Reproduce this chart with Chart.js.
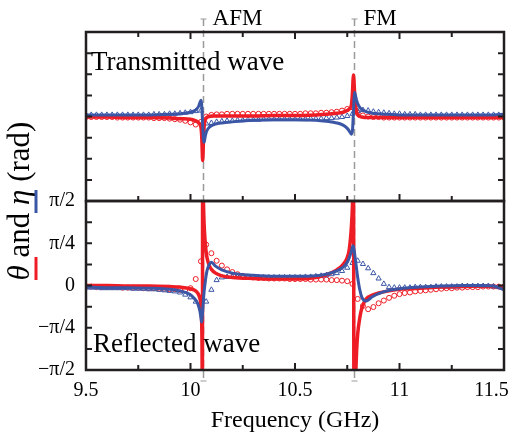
<!DOCTYPE html>
<html>
<head>
<meta charset="utf-8">
<script src="https://cdn.jsdelivr.net/npm/chart.js@4.4.1/dist/chart.umd.min.js"></script>
<style>
  html, body { margin: 0; padding: 0; background: #fff; }
</style>
</head>
<body>
<canvas id="chart" width="516" height="439"></canvas>
<script>
// frequency grid of the model curves (GHz)
var lineFreq = [9.5, 9.6, 9.7, 9.8, 9.9, 9.95, 10.0, 10.02, 10.03, 10.04,
  10.045, 10.05, 10.053, 10.055, 10.057, 10.058, 10.06, 10.062, 10.065, 10.07,
  10.075, 10.08, 10.09, 10.1, 10.12, 10.15, 10.2, 10.3, 10.4, 10.5,
  10.6, 10.65, 10.7, 10.73, 10.75, 10.76, 10.77, 10.775, 10.778, 10.78,
  10.782, 10.785, 10.79, 10.795, 10.8, 10.81, 10.82, 10.84, 10.87, 10.9,
  10.95, 11.0, 11.1, 11.2, 11.3, 11.4, 11.45, 11.5];

// transmitted wave, model (rad)
var thetaTrans = [-0.01, -0.01, -0.02, -0.02, -0.03, -0.04, -0.05, -0.07, -0.09, -0.12,
  -0.14, -0.2, -0.32, -0.5, -0.75, -0.82, -0.7, -0.45, -0.2, -0.07,
  -0.03, -0.01, 0.0, 0.01, 0.01, 0.01, 0.01, 0.01, 0.02, 0.02,
  0.03, 0.04, 0.06, 0.08, 0.11, 0.14, 0.22, 0.45, 0.7, 0.77,
  0.68, 0.45, 0.2, 0.08, 0.03, 0.0, -0.01, -0.02, -0.02, -0.02,
  -0.02, -0.02, -0.02, -0.02, -0.02, -0.02, -0.02, -0.02];
var etaTrans = [0.03, 0.03, 0.03, 0.03, 0.04, 0.05, 0.08, 0.11, 0.14, 0.2,
  0.26, 0.3, 0.24, 0.12, -0.05, -0.14, -0.3, -0.43, -0.48, -0.38,
  -0.3, -0.25, -0.2, -0.17, -0.14, -0.12, -0.1, -0.07, -0.06, -0.06,
  -0.07, -0.09, -0.12, -0.16, -0.22, -0.27, -0.33, -0.26, -0.05, 0.12,
  0.3, 0.45, 0.38, 0.3, 0.24, 0.17, 0.13, 0.09, 0.06, 0.05,
  0.04, 0.03, 0.03, 0.03, 0.03, 0.03, 0.03, 0.04];

// reflected wave, model (rad)
var thetaRefl = [0.0, 0.0, -0.01, -0.01, -0.02, -0.03, -0.06, -0.09, -0.12, -0.18,
  -0.24, -0.36, -0.6, -1.1, -2.5, 2.5, 2.0, 1.55, 1.15, 0.82,
  0.62, 0.5, 0.37, 0.3, 0.23, 0.18, 0.15, 0.13, 0.12, 0.12,
  0.15, 0.2, 0.29, 0.39, 0.52, 0.68, 1.1, 1.5, 2.0, 2.5,
  -2.5, -2.2, -1.7, -1.2, -0.9, -0.6, -0.42, -0.25, -0.18, -0.14,
  -0.1, -0.07, -0.05, -0.03, -0.02, -0.01, -0.02, -0.05];
var etaRefl = [-0.03, -0.04, -0.04, -0.05, -0.07, -0.1, -0.17, -0.25, -0.3, -0.4,
  -0.48, -0.6, -0.68, -0.64, -0.55, -0.48, -0.37, -0.26, -0.12, 0.05,
  0.19, 0.29, 0.39, 0.43, 0.36, 0.29, 0.23, 0.19, 0.17, 0.17,
  0.18, 0.21, 0.27, 0.34, 0.43, 0.52, 0.64, 0.71, 0.74, 0.72,
  0.68, 0.6, 0.45, 0.3, 0.15, -0.08, -0.22, -0.29, -0.21, -0.15,
  -0.09, -0.06, -0.03, -0.01, 0.0, 0.0, -0.01, -0.08];

// measured points, 25 MHz steps (GHz)
var measFreq = [9.5, 9.525, 9.55, 9.575, 9.6, 9.625, 9.65, 9.675, 9.7, 9.725,
  9.75, 9.775, 9.8, 9.825, 9.85, 9.875, 9.9, 9.925, 9.95, 9.975,
  10.0, 10.025, 10.05, 10.075, 10.1, 10.125, 10.15, 10.175, 10.2, 10.225,
  10.25, 10.275, 10.3, 10.325, 10.35, 10.375, 10.4, 10.425, 10.45, 10.475,
  10.5, 10.525, 10.55, 10.575, 10.6, 10.625, 10.65, 10.675, 10.7, 10.725,
  10.75, 10.775, 10.8, 10.825, 10.85, 10.875, 10.9, 10.925, 10.95, 10.975,
  11.0, 11.025, 11.05, 11.075, 11.1, 11.125, 11.15, 11.175, 11.2, 11.225,
  11.25, 11.275, 11.3, 11.325, 11.35, 11.375, 11.4, 11.425, 11.45, 11.475,
  11.5];

var thetaTransMeas = [-0.01, -0.01, -0.01, -0.01, -0.01, -0.01, -0.02, -0.02, -0.02, -0.02,
  -0.02, -0.02, -0.02, -0.03, -0.03, -0.03, -0.04, -0.05, -0.06, -0.08,
  -0.11, -0.15, -0.1, 0.0, 0.03, 0.04, 0.04, 0.05, 0.05, 0.05,
  0.05, 0.05, 0.05, 0.05, 0.05, 0.05, 0.05, 0.05, 0.05, 0.05,
  0.05, 0.05, 0.06, 0.06, 0.06, 0.07, 0.07, 0.08, 0.09, 0.11,
  0.14, 0.17, 0.07, 0.02, 0.0, -0.01, -0.01, -0.02, -0.02, -0.02,
  -0.02, -0.02, -0.02, -0.02, -0.02, -0.02, -0.02, -0.02, -0.02, -0.02,
  -0.02, -0.02, -0.02, -0.02, -0.02, -0.02, -0.02, -0.02, -0.02, -0.02,
  -0.02];
var etaTransMeas = [0.03, 0.03, 0.03, 0.03, 0.03, 0.03, 0.03, 0.03, 0.03, 0.03,
  0.03, 0.03, 0.03, 0.04, 0.04, 0.04, 0.05, 0.05, 0.06, 0.07,
  0.08, 0.1, 0.11, -0.13, -0.12, -0.1, -0.09, -0.08, -0.08, -0.07,
  -0.07, -0.06, -0.06, -0.06, -0.05, -0.05, -0.05, -0.05, -0.05, -0.05,
  -0.05, -0.05, -0.05, -0.04, -0.04, -0.04, -0.03, -0.03, -0.02, -0.01,
  0.01, 0.05, 0.1, 0.12, 0.11, 0.09, 0.08, 0.07, 0.06, 0.05,
  0.05, 0.04, 0.04, 0.04, 0.03, 0.03, 0.03, 0.03, 0.03, 0.03,
  0.03, 0.03, 0.03, 0.03, 0.03, 0.03, 0.03, 0.03, 0.03, 0.03,
  0.03];
var thetaReflMeas = [-0.02, -0.02, -0.03, -0.03, -0.03, -0.03, -0.03, -0.04, -0.04, -0.04,
  -0.04, -0.05, -0.05, -0.05, -0.06, -0.06, -0.07, -0.07, -0.08, -0.08,
  -0.05, 0.12, 0.45, 0.76, 0.6, 0.46, 0.37, 0.3, 0.25, 0.21,
  0.18, 0.16, 0.15, 0.14, 0.14, 0.13, 0.13, 0.13, 0.13, 0.12,
  0.12, 0.12, 0.12, 0.11, 0.11, 0.11, 0.11, 0.1, 0.1, 0.09,
  0.08, 0.03, -0.25, -0.38, -0.44, -0.4, -0.33, -0.28, -0.23, -0.19,
  -0.16, -0.14, -0.13, -0.11, -0.1, -0.09, -0.08, -0.07, -0.06, -0.05,
  -0.05, -0.04, -0.04, -0.03, -0.03, -0.03, -0.02, -0.02, -0.02, -0.02,
  -0.02];
var etaReflMeas = [-0.04, -0.04, -0.04, -0.05, -0.05, -0.05, -0.05, -0.05, -0.05, -0.06,
  -0.06, -0.06, -0.07, -0.07, -0.08, -0.09, -0.1, -0.11, -0.13, -0.17,
  -0.22, -0.3, -0.35, -0.3, -0.08, 0.1, 0.15, 0.16, 0.16, 0.16,
  0.16, 0.16, 0.15, 0.15, 0.15, 0.15, 0.15, 0.15, 0.15, 0.15,
  0.15, 0.15, 0.16, 0.16, 0.17, 0.18, 0.19, 0.21, 0.23, 0.27,
  0.33, 0.42, 0.46, 0.4, 0.32, 0.23, 0.13, 0.03, -0.03, -0.04,
  -0.04, -0.04, -0.04, -0.03, -0.03, -0.03, -0.03, -0.02, -0.02, -0.02,
  -0.02, -0.02, -0.01, -0.01, -0.01, -0.01, -0.01, -0.01, -0.02, -0.03,
  -0.05];

// axis ticks and resonance markers
var xTickValues = [9.5, 10, 10.5, 11, 11.5];
var xTickLabels = ['9.5', '10', '10.5', '11', '11.5     '];
var yTickValues = [-Math.PI / 2, -Math.PI / 4, 0, Math.PI / 4, Math.PI / 2];
var yTickLabels = ['\u2212\u03c0/2', '\u2212\u03c0/4', '0', '\u03c0/4', '\u03c0/2'];
var modeNames = ['AFM', 'FM'];
var modeFreq = [10.058, 10.78];

var RED = '#ee1c25';
var BLUE = '#3a56a5';
var INK = '#231f20';
var SERIF = '"Liberation Serif", "DejaVu Serif", serif';

function pts(xs, ys) {
  return xs.map(function (x, i) { return { x: x, y: ys[i] }; });
}

// clip each dataset to its own panel, draw frame, ticks and labels
var panelDecor = {
  id: 'panelDecor',
  beforeDatasetDraw: function (chart, args) {
    var ctx = chart.ctx, xs = args.meta.xScale, ys = args.meta.yScale;
    ctx.save();
    ctx.beginPath();
    ctx.rect(xs.left, ys.top, xs.right - xs.left, ys.bottom - ys.top);
    ctx.clip();
  },
  afterDatasetDraw: function (chart) {
    chart.ctx.restore();
  },
  beforeDatasetsDraw: function (chart) {
    var ctx = chart.ctx, xs = chart.scales.x;
    var top = chart.chartArea.top, bottom = chart.chartArea.bottom;
    ctx.save();
    ctx.strokeStyle = '#9a9a9a';
    modeFreq.forEach(function (f) {
      var px = Math.round(xs.getPixelForValue(f)) + 0.5;
      ctx.lineWidth = 1.5;
      ctx.setLineDash([7, 4]);
      ctx.beginPath();
      ctx.moveTo(px, top - 13);
      ctx.lineTo(px, bottom + 11);
      ctx.stroke();
      ctx.setLineDash([]);
      ctx.lineWidth = 1;
      ctx.beginPath();
      ctx.moveTo(px - 3, top - 13);
      ctx.lineTo(px + 3, top - 13);
      ctx.moveTo(px - 3, bottom + 11);
      ctx.lineTo(px + 3, bottom + 11);
      ctx.stroke();
    });
    ctx.restore();
  },
  afterDraw: function (chart) {
    var ctx = chart.ctx, xs = chart.scales.x;
    var panels = [chart.scales.yT, chart.scales.yR];
    ctx.save();
    ctx.strokeStyle = INK;
    ctx.lineWidth = 2;
    panels.forEach(function (ys, p) {
      var l = xs.left, r = xs.right, t = ys.top, b = ys.bottom;
      ctx.beginPath();
      for (var k = -3; k <= 3; k++) {
        var py = ys.getPixelForValue(k * Math.PI / 8);
        ctx.moveTo(l, py); ctx.lineTo(l + 6, py);
        ctx.moveTo(r, py); ctx.lineTo(r - 6, py);
      }
      for (var f = 9.75; f < 11.5; f += 0.25) {
        var px = xs.getPixelForValue(f);
        var len = Math.abs(f * 2 - Math.round(f * 2)) < 1e-6 ? 7 : 5;
        ctx.moveTo(px, b); ctx.lineTo(px, b - len);
        if (p === 0) { ctx.moveTo(px, t); ctx.lineTo(px, t + len); }
      }
      ctx.stroke();
    });
    ctx.lineWidth = 2.5;
    panels.forEach(function (ys) {
      ctx.strokeRect(xs.left, ys.top, xs.right - xs.left, ys.bottom - ys.top);
    });

    ctx.fillStyle = '#000';
    ctx.textBaseline = 'alphabetic';
    ctx.textAlign = 'left';
    ctx.font = '23px ' + SERIF;
    modeNames.forEach(function (name, i) {
      var px = xs.getPixelForValue(modeFreq[i]);
      ctx.fillText(name, px + 10, 25);
    });
    ctx.font = '27px ' + SERIF;
    ctx.fillText('Transmitted wave', xs.left + 5, panels[0].top + 38);
    ctx.fillText('Reflected wave', xs.left + 7, panels[1].bottom - 18);

    // rotated axis title with italic symbols
    var parts = [['\u03b8', 'italic '], [' and ', ''], ['\u03b7', 'italic '], [' (rad)', '']];
    var widths = parts.map(function (pt) {
      ctx.font = pt[1] + '31px ' + SERIF;
      return ctx.measureText(pt[0]).width;
    });
    var total = widths.reduce(function (a, b) { return a + b; }, 0);
    ctx.translate(29, 201);
    ctx.rotate(-Math.PI / 2);
    var x = -total / 2;
    parts.forEach(function (pt, i) {
      ctx.font = pt[1] + '31px ' + SERIF;
      ctx.fillText(pt[0], x, 0);
      x += widths[i];
    });
    ctx.restore();

    // series keys beside the title
    ctx.save();
    ctx.lineWidth = 3;
    ctx.strokeStyle = BLUE;
    ctx.beginPath(); ctx.moveTo(36, 190); ctx.lineTo(36, 213); ctx.stroke();
    ctx.strokeStyle = RED;
    ctx.beginPath(); ctx.moveTo(36, 257); ctx.lineTo(36, 280); ctx.stroke();
    ctx.restore();
  }
};

function lineSet(label, xs, ys, color, width, axis, order) {
  return {
    label: label, data: pts(xs, ys), yAxisID: axis, showLine: true,
    borderColor: color, borderWidth: width, pointRadius: 0,
    cubicInterpolationMode: 'monotone', clip: false, order: order
  };
}
function markSet(label, xs, ys, color, style, radius, axis, order) {
  return {
    label: label, data: pts(xs, ys), yAxisID: axis, showLine: false,
    borderColor: color, backgroundColor: 'rgba(0,0,0,0)', borderWidth: 1,
    pointStyle: style, pointRadius: radius, clip: false, order: order
  };
}

var yFit = function (s) { s.width = 86; s.paddingTop = 0; s.paddingBottom = 0; };

new Chart(document.getElementById('chart'), {
  type: 'scatter',
  data: {
    datasets: [
      markSet('\u03b8 meas. T', measFreq, thetaTransMeas, RED, 'circle', 2.5, 'yT', 4),
      markSet('\u03b7 meas. T', measFreq, etaTransMeas, BLUE, 'triangle', 3, 'yT', 3),
      lineSet('\u03b8 T', lineFreq, thetaTrans, RED, 3.5, 'yT', 1),
      lineSet('\u03b7 T', lineFreq, etaTrans, BLUE, 3, 'yT', 0),
      markSet('\u03b8 meas. R', measFreq, thetaReflMeas, RED, 'circle', 2.5, 'yR', 4),
      markSet('\u03b7 meas. R', measFreq, etaReflMeas, BLUE, 'triangle', 3, 'yR', 3),
      lineSet('\u03b8 R', lineFreq, thetaRefl, RED, 3.5, 'yR', 1),
      lineSet('\u03b7 R', lineFreq, etaRefl, BLUE, 3, 'yR', 0)
    ]
  },
  options: {
    responsive: false,
    animation: false,
    devicePixelRatio: 1,
    layout: { padding: { top: 32, right: 12, left: 0, bottom: 0 } },
    plugins: { legend: { display: false }, tooltip: { enabled: false } },
    scales: {
      x: {
        type: 'linear', min: 9.5, max: 11.5,
        grid: { display: false, drawTicks: false },
        border: { display: false },
        afterBuildTicks: function (s) {
          s.ticks = xTickValues.map(function (v) { return { value: v }; });
        },
        afterFit: function (s) { s.height = 69; s.paddingLeft = 0; s.paddingRight = 0; },
        ticks: {
          color: '#000', padding: 9, maxRotation: 0, autoSkip: false,
          font: { family: SERIF, size: 20 },
          callback: function (v) { return xTickLabels[xTickValues.indexOf(v)]; }
        },
        title: {
          display: true, text: 'Frequency (GHz)', color: '#000',
          font: { family: SERIF, size: 24 }, padding: { top: 0, bottom: 4 }
        }
      },
      yT: {
        type: 'linear', position: 'left', stack: 'panels', weight: 1,
        min: -Math.PI / 2, max: Math.PI / 2,
        grid: { display: false, drawTicks: false },
        border: { display: false },
        ticks: { display: false },
        afterFit: yFit
      },
      yR: {
        type: 'linear', position: 'left', stack: 'panels', weight: 0,
        min: -Math.PI / 2, max: Math.PI / 2,
        grid: { display: false, drawTicks: false },
        border: { display: false },
        afterBuildTicks: function (s) {
          s.ticks = yTickValues.map(function (v) { return { value: v }; });
        },
        ticks: {
          color: '#000', padding: 11, autoSkip: false,
          font: { family: SERIF, size: 20 },
          callback: function (v) { return yTickLabels[yTickValues.indexOf(v)]; }
        },
        afterFit: yFit
      }
    }
  },
  plugins: [panelDecor]
});
</script>
</body>
</html>
